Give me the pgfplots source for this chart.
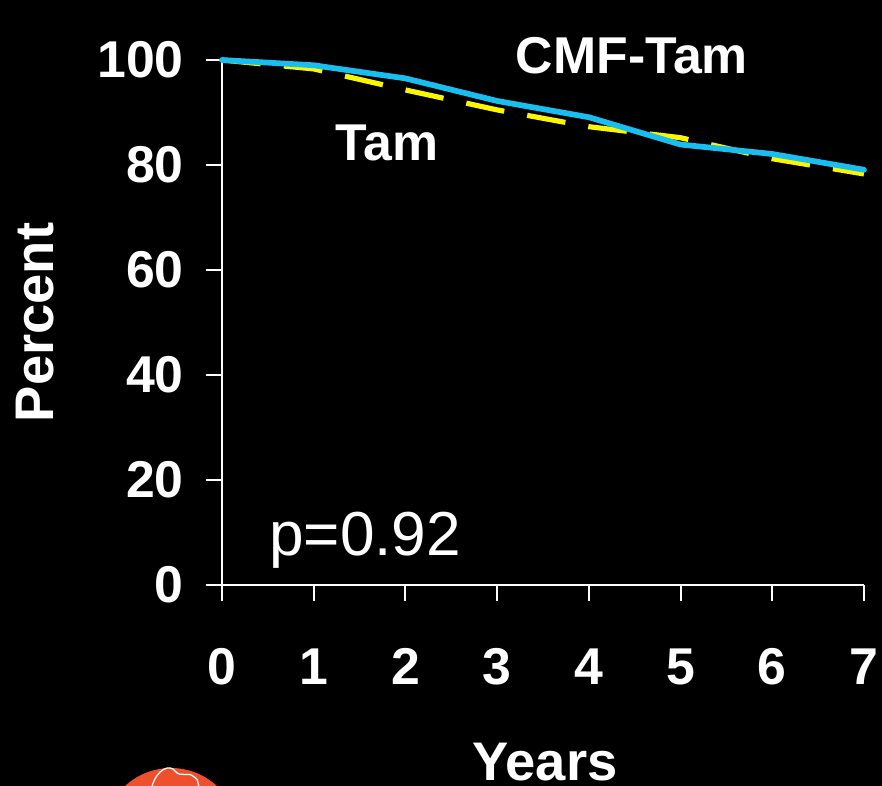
\documentclass[border=0pt]{standalone}
\usepackage{fontspec}
\setmainfont{Liberation Sans}
\usepackage{pgfplots}
\pgfplotsset{compat=1.18}

\definecolor{cmfcyan}{RGB}{24,190,240}
\definecolor{tamyellow}{RGB}{250,245,0}
\definecolor{logored}{RGB}{238,80,45}

\begin{document}
\begin{tikzpicture}
  % black slide background, same extent as the page
  \fill[black] (-85.76pt,-77.65pt) rectangle (254.96pt,225.98pt);

  \begin{axis}[
    scale only axis,
    width=248pt, height=202.8pt,
    xmin=0, xmax=7, ymin=0, ymax=100,
    xtick={0,1,2,3,4,5,6,7},
    ytick={0,20,40,60,80,100},
    axis x line*=bottom, axis y line*=left,
    axis line style={white, line width=0.8pt, -},
    tick style={white, line width=0.8pt},
    tick align=outside, major tick length=6pt,
    /pgf/number format/assume math mode=true,
    ticklabel style={white, font=\fontsize{20}{24}\selectfont\bfseries},
    yticklabel style={anchor=east, xshift=-5.3pt},
    xticklabel style={anchor=north, text height=14.4pt, text depth=0pt, yshift=-14.5pt},
    xlabel={Years}, ylabel={Percent},
    label style={white, font=\fontsize{21}{25}\selectfont\bfseries},
    xlabel style={at={(axis description cs:0.503,-0.337)}, anchor=center},
    ylabel style={at={(axis description cs:-0.291,0.50)}, anchor=center, rotate=0},
    clip=false,
  ]
  % Tam (dashed yellow)
  \addplot[tamyellow, line width=2pt, dash pattern=on 15pt off 9pt] coordinates {
    (0,100) (1,98.3) (2,94.3) (3,90.5) (4,87.3) (5,85.2) (6,81.2) (7,78.3)
  };
  % CMF-Tam (solid cyan)
  \addplot[cmfcyan, line width=2.2pt, line cap=round, line join=round] coordinates {
    (0,100) (1,99.0) (2,96.5) (3,92.2) (4,89.1) (5,83.9) (6,82.1) (7,79.1)
  };

  \node[white, font=\fontsize{20}{24}\selectfont\bfseries] at (axis cs:4.47,100.9) {CMF-Tam};
  \node[white, font=\fontsize{20}{24}\selectfont\bfseries] at (axis cs:1.80,84.2) {Tam};
  \node[white, font=\fontsize{24}{28}\selectfont] at (axis cs:1.56,8.6) {p=0.92};
  \end{axis}

  % partial logo at the bottom edge
  \fill[logored] (-19.7pt,-96.8pt) circle (26.1pt);
  \draw[white, line width=0.5pt] (-27pt,-77.65pt) .. controls (-25pt,-71pt) and (-20pt,-69pt) .. (-18pt,-72pt)
     .. controls (-16pt,-74.5pt) and (-13pt,-72pt) .. (-11pt,-74pt) .. controls (-9.5pt,-75pt) .. (-9pt,-77.65pt);

  \pgfresetboundingbox
  \path[use as bounding box] (-85.76pt,-77.65pt) rectangle (254.96pt,225.98pt);
\end{tikzpicture}
\end{document}
